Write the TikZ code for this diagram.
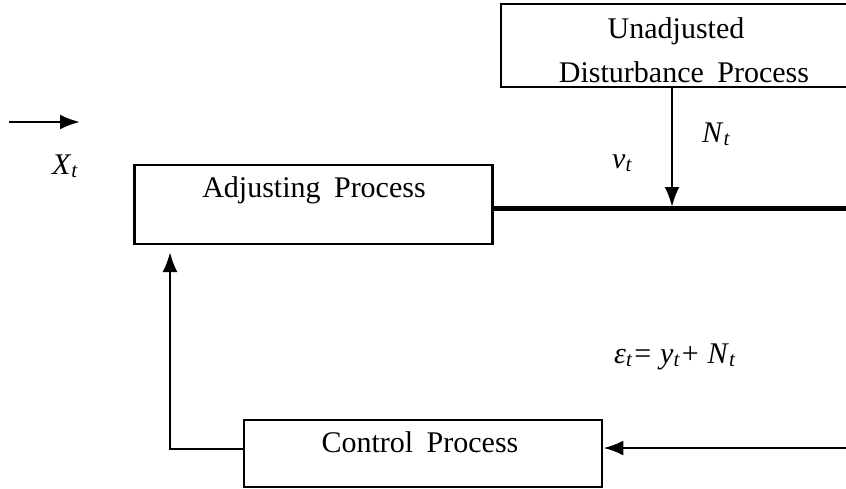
\documentclass[tikz,border=0pt]{standalone}
\usepackage{fontspec}
\setmainfont{Liberation Serif}
\usetikzlibrary{arrows.meta}
\newcommand{\vsub}[2]{\textit{#1}\textsubscript{\textit{#2}}}
\begin{document}
\begin{tikzpicture}[x=1pt,y=-1pt,
  box/.style={draw, line width=2.8pt, inner sep=0pt},
  txt/.style={inner sep=0pt, font=\fontsize{30}{34}\selectfont},
  mth/.style={inner sep=0pt, font=\fontsize{30}{34}\selectfont},
  arr/.style={line width=2.7pt, -{Latex[length=20pt,width=15pt]}},
  thick line/.style={line width=5pt}]
\useasboundingbox (0,0) rectangle (846,488);
% boxes
\node[box, minimum width=360pt, minimum height=83pt] (unadj) at (681,45.5) {};
\node[box, minimum width=358pt, minimum height=79pt] (adj) at (313.5,204.5) {};
\node[box, minimum width=358pt, minimum height=67pt] (ctrl) at (423,453.5) {};
% box texts
\node[txt, anchor=base] (unadjt1) at (676,38) {Unadjusted};
\node[txt, anchor=base] (unadjt2) at (684,82) {Disturbance\hspace{0.45em}Process};
\node[txt, anchor=base] (adjt) at (314,197) {Adjusting\hspace{0.45em}Process};
\node[txt, anchor=base] (ctrlt) at (420,452) {Control\hspace{0.45em}Process};
% coordinates
\coordinate (in1) at (9,122);
\coordinate (in2) at (80,122);
\coordinate (jn) at (672,207);
\coordinate (tl) at (492,208);
\coordinate (out) at (850,208);
\coordinate (fbin) at (850,448);
\coordinate (fbcorner) at (170,449);
\coordinate (fbtip) at (170,252);
% connectors
\draw[arr] (in1) -- (in2);
\draw[arr] (unadj.south -| jn) -- (jn);
\draw[thick line] (tl) -- (out);
\draw[arr] (fbin) -- (ctrl.east |- fbin);
\draw[arr] (ctrl.west |- fbcorner) -- (fbcorner) -- (fbtip);
% labels
\node[mth, anchor=base west] (xt) at (52,174) {\vsub{X}{t}};
\node[mth, anchor=base west] (nt) at (702,142) {\vsub{N}{t}};
\node[mth, anchor=base west] (vt) at (612,168) {\vsub{v}{t}};
\node[mth, anchor=base west] (eq) at (614,363) {\vsub{ε}{t}\hspace{0.05em}=\hspace{0.3em}\vsub{y}{t}\hspace{0.05em}+\hspace{0.3em}\vsub{N}{t}};
\end{tikzpicture}
\end{document}
